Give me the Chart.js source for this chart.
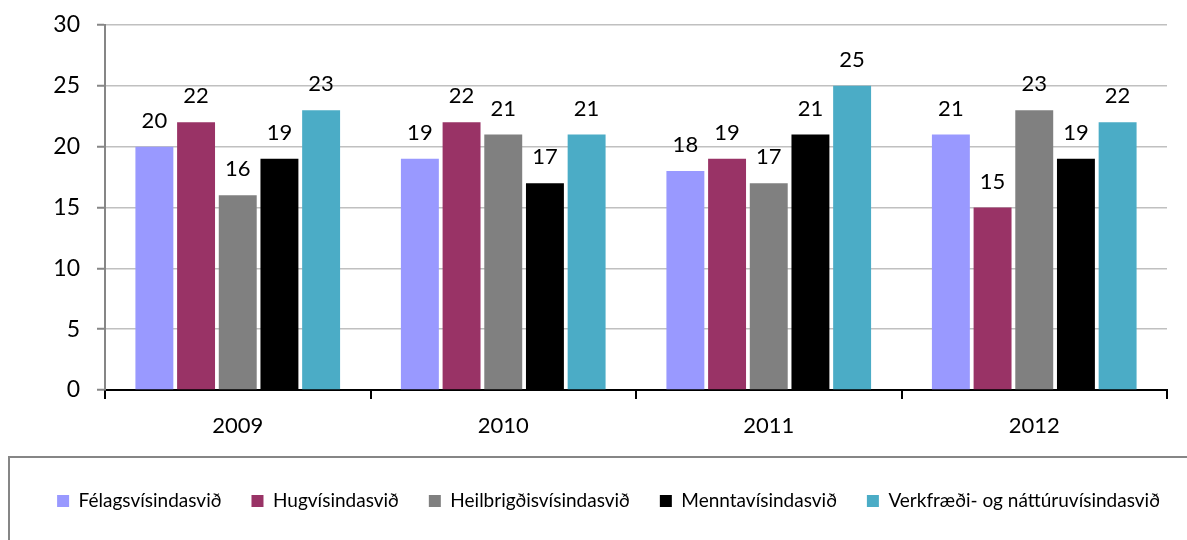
<!DOCTYPE html>
<html>
<head>
<meta charset="utf-8">
<script src="https://cdn.jsdelivr.net/npm/chart.js@4"></script>
<style>
html,body{margin:0;padding:0;background:#fff;}
#wrap{width:1187px;height:540px;position:relative;}
</style>
</head>
<body>
<div id="wrap"><canvas id="c" width="1187" height="540"></canvas></div>
<script>
const categories = ['2009', '2010', '2011', '2012'];
const seriesNames = ['Félagsvísindasvið', 'Hugvísindasvið', 'Heilbrigðisvísindasvið', 'Menntavísindasvið', 'Verkfræði- og náttúruvísindasvið'];
const felagsvisindasvid = [20, 19, 18, 21];
const hugvisindasvid = [22, 22, 19, 15];
const heilbrigdisvisindasvid = [16, 21, 17, 23];
const menntavisindasvid = [19, 17, 21, 19];
const verkfraedi = [23, 21, 25, 22];
const yTicks = [0, 5, 10, 15, 20, 25, 30];
const colors = ['#9999FF', '#993366', '#808080', '#000000', '#4BACC6'];

const seriesValues = [felagsvisindasvid, hugvisindasvid, heilbrigdisvisindasvid, menntavisindasvid, verkfraedi];

const FONT = 'Lato';
const LEGEND_FONT = 19;
const LEGEND_PAD = 30;
const LEGEND_SHIFT = 25;

const labelPlugin = {
  id: 'barLabels',
  afterDatasetsDraw(chart) {
    const ctx = chart.ctx;
    ctx.save();
    ctx.font = '22px ' + FONT;
    ctx.fillStyle = '#000';
    ctx.textAlign = 'center';
    ctx.textBaseline = 'alphabetic';
    chart.data.datasets.forEach((ds, i) => {
      const meta = chart.getDatasetMeta(i);
      meta.data.forEach((bar, j) => {
        ctx.fillText(String(ds.data[j]), bar.x, bar.y - 19);
      });
    });
    ctx.restore();
  }
};

const legendBoxPlugin = {
  id: 'legendBox',
  afterLayout(chart) {
    if (chart.legend) {
      chart.legend.left += LEGEND_SHIFT;
      chart.legend.right += LEGEND_SHIFT;
    }
  },
  beforeDraw(chart) {
    const ctx = chart.ctx;
    ctx.save();
    ctx.fillStyle = '#fff';
    ctx.fillRect(0, 0, chart.width, chart.height);
    ctx.restore();
  },
  afterDraw(chart) {
    const ctx = chart.ctx;
    ctx.save();
    ctx.strokeStyle = '#868686';
    ctx.lineWidth = 2;
    ctx.strokeRect(9, 457, chart.width + 20, 120);
    ctx.restore();
  }
};

new Chart(document.getElementById('c'), {
  type: 'bar',
  data: {
    labels: categories,
    datasets: seriesNames.map((name, i) => ({
      label: name,
      data: seriesValues[i],
      backgroundColor: colors[i],
      borderWidth: 0,
      categoryPercentage: 0.785,
      barPercentage: 0.91
    }))
  },
  options: {
    responsive: false,
    animation: false,
    devicePixelRatio: 1,
    layout: { padding: { top: 25, right: 20, left: 0, bottom: 29 - LEGEND_FONT / 2 } },
    plugins: {
      tooltip: { enabled: false },
      legend: {
        position: 'bottom',
        labels: {
          font: { family: FONT, size: LEGEND_FONT },
          color: '#000',
          boxWidth: 12,
          boxHeight: 12,
          padding: LEGEND_PAD
        }
      }
    },
    scales: {
      x: {
        grid: {
          offset: true,
          drawOnChartArea: false,
          drawTicks: true,
          tickLength: 9,
          color: '#000',
          lineWidth: 2
        },
        border: { display: true, color: '#000', width: 2 },
        ticks: {
          font: { family: FONT, size: 22 },
          color: '#000',
          padding: 14,
          maxRotation: 0
        },
        afterFit(scale) {
          scale.height = (540 - (29 - LEGEND_FONT / 2) - (LEGEND_FONT + LEGEND_PAD + 10)) - 390;
          scale.paddingLeft = 0; scale.paddingRight = 0;
        }
      },
      y: {
        min: 0,
        max: 30,
        afterBuildTicks(scale) { scale.ticks = yTicks.map(v => ({ value: v })); },
        grid: {
          color: '#C0C0C0',
          lineWidth: 1.5,
          drawTicks: true,
          tickLength: 8,
          tickColor: '#868686',
          tickWidth: 2
        },
        border: { display: true, color: '#868686', width: 2 },
        ticks: {
          font: { family: FONT, size: 23 },
          color: '#000',
          padding: 17
        },
        afterFit(scale) {
          scale.width = 105;
          scale.paddingTop = 0; scale.paddingBottom = 0;
        }
      }
    }
  },
  plugins: [labelPlugin, legendBoxPlugin]
});
</script>
</body>
</html>
